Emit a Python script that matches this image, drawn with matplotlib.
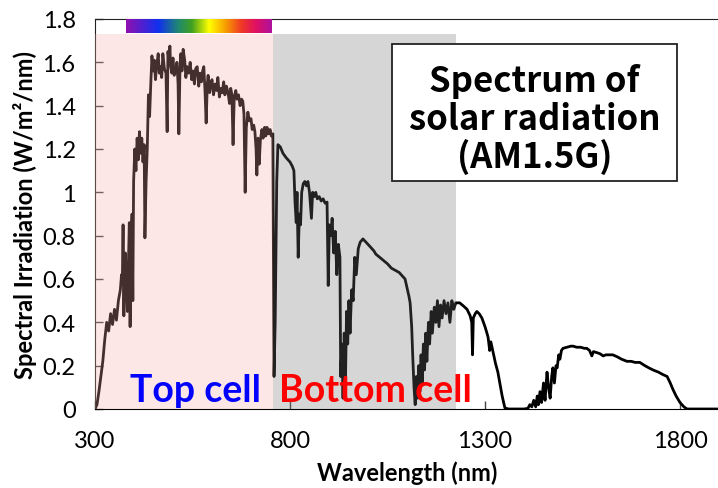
import numpy as np
import matplotlib
matplotlib.use("Agg")
import matplotlib.pyplot as plt
from matplotlib.colors import LinearSegmentedColormap
from matplotlib.patches import Rectangle

plt.rcParams["font.family"] = ["Lato", "DejaVu Sans"]

# AM1.5G spectrum (nm, W/m2/nm)
wl_uv = [300, 305, 310, 315, 320, 325, 330, 335, 340, 345, 350, 355, 360, 365,
         368, 370, 372, 374, 376, 378, 380, 383, 386, 388, 390, 392, 395, 397,
         399, 402, 405, 408, 411, 414, 417, 420, 423, 426, 428, 431, 434, 437,
         440, 443]
irr_uv = [0.0, 0.02, 0.08, 0.15, 0.22, 0.32, 0.40, 0.36, 0.44, 0.39, 0.46, 0.41,
          0.50, 0.55, 0.62, 0.58, 0.85, 0.43, 0.68, 0.72, 0.60, 0.45, 0.70, 0.86,
          0.38, 0.75, 0.90, 0.50, 1.05, 1.20, 1.10, 1.25, 1.15, 1.28, 1.18, 1.25,
          1.14, 1.22, 0.79, 1.05, 1.20, 1.45, 1.35, 1.50]

wl_vis = [446, 449, 452, 455, 458, 462, 465, 467, 471, 474, 478, 482, 485, 487,
          490, 492, 494, 497, 500, 503, 507, 510, 513, 515, 518, 520, 523, 526,
          530, 533, 536, 540, 544, 548, 551, 555, 558, 562, 566, 569, 573, 576,
          579, 582, 585, 588, 590, 594, 597, 600, 604, 608, 612, 615, 619, 623,
          626, 630, 633, 637, 641, 645, 648, 651, 654, 657, 661, 664, 668, 672,
          676, 679, 682, 685, 688, 692, 696, 700, 703, 707, 710, 713, 715, 718,
          721, 724, 728, 731, 735, 738, 741, 745, 749, 752, 756, 759]
irr_vis = [1.63, 1.56, 1.61, 1.52, 1.58, 1.64, 1.55, 1.58, 1.53, 1.64, 1.57, 1.55,
           1.28, 1.65, 1.60, 1.675, 1.58, 1.55, 1.62, 1.54, 1.56, 1.60, 1.50, 1.27,
           1.58, 1.64, 1.56, 1.66, 1.61, 1.53, 1.58, 1.55, 1.60, 1.52, 1.56, 1.50,
           1.57, 1.58, 1.49, 1.55, 1.51, 1.56, 1.58, 1.47, 1.32, 1.50, 1.54, 1.46,
           1.50, 1.52, 1.45, 1.50, 1.47, 1.53, 1.44, 1.48, 1.46, 1.51, 1.45, 1.49,
           1.46, 1.41, 1.48, 1.45, 1.22, 1.44, 1.47, 1.43, 1.45, 1.40, 1.43, 1.42,
           1.36, 1.00, 1.30, 1.37, 1.33, 1.34, 1.29, 1.31, 1.28, 1.20, 1.08, 1.25,
           1.13, 1.24, 1.29, 1.25, 1.30, 1.26, 1.30, 1.27, 1.29, 1.26, 1.27, 0.15]

wl_nir = [762, 766, 769, 775, 782, 790, 795, 800, 806, 810, 813, 816, 818, 821,
          824, 827, 830, 834, 838, 842, 846, 850, 855, 858, 862, 866, 870, 875,
          880, 885, 890, 895, 898, 901, 905, 908, 912, 916, 920, 924, 928, 930,
          933, 936, 939, 942, 945, 948, 951, 954, 958, 962, 966, 970, 975, 980,
          987, 995, 1000, 1010, 1015, 1020, 1030, 1040, 1050, 1060, 1070, 1080,
          1090, 1095, 1100, 1105, 1108, 1112, 1115, 1118, 1121, 1124, 1127, 1130,
          1133, 1136, 1139, 1142, 1145, 1148, 1151, 1155, 1158, 1162, 1165, 1170,
          1174, 1178, 1182, 1186, 1190, 1195, 1200, 1205, 1210, 1215, 1220, 1225]
irr_nir = [0.40, 1.05, 1.22, 1.21, 1.18, 1.16, 1.15, 1.14, 1.12, 1.10, 0.95, 0.86,
           1.00, 0.70, 0.90, 0.85, 1.00, 1.04, 1.05, 1.03, 1.05, 1.00, 0.88, 1.00,
           0.98, 1.00, 0.97, 0.98, 0.96, 0.97, 0.95, 0.955, 0.57, 0.85, 0.80, 0.88,
           0.72, 0.82, 0.62, 0.76, 0.70, 0.15, 0.30, 0.05, 0.35, 0.10, 0.45, 0.30,
           0.50, 0.35, 0.55, 0.50, 0.70, 0.62, 0.74, 0.77, 0.785, 0.77, 0.76, 0.74,
           0.73, 0.715, 0.70, 0.685, 0.67, 0.65, 0.64, 0.63, 0.61, 0.60, 0.56, 0.52,
           0.49, 0.38, 0.23, 0.10, 0.02, 0.15, 0.05, 0.20, 0.08, 0.25, 0.12, 0.30,
           0.18, 0.35, 0.22, 0.40, 0.30, 0.45, 0.35, 0.47, 0.40, 0.50, 0.38, 0.48,
           0.42, 0.50, 0.44, 0.49, 0.40, 0.50, 0.46, 0.49]

wl_ir = [1228, 1235, 1245, 1254, 1262, 1266, 1268, 1270, 1275, 1279, 1285, 1292,
         1300, 1305, 1308, 1312, 1315, 1321, 1327, 1333, 1338, 1344, 1351, 1360,
         1400, 1410, 1415, 1420, 1425, 1430, 1434, 1437, 1441, 1445, 1450, 1454,
         1459, 1463, 1467, 1471, 1474, 1478, 1482, 1485, 1489, 1492, 1496, 1500,
         1510, 1520, 1526, 1535, 1545, 1555, 1561, 1568, 1574, 1578, 1587, 1595,
         1603, 1610, 1620, 1628, 1640, 1650, 1657, 1664, 1675, 1685, 1697, 1710,
         1720, 1731, 1745, 1755, 1767, 1775, 1782, 1790, 1800, 1810, 1818, 1900]
irr_ir = [0.49, 0.49, 0.475, 0.46, 0.43, 0.40, 0.25, 0.42, 0.44, 0.45, 0.44, 0.42,
          0.38, 0.35, 0.33, 0.27, 0.31, 0.26, 0.21, 0.17, 0.12, 0.06, 0.005, 0.0,
          0.0, 0.003, 0.02, 0.01, 0.04, 0.01, 0.06, 0.02, 0.08, 0.03, 0.12, 0.04,
          0.17, 0.10, 0.05, 0.15, 0.19, 0.12, 0.20, 0.19, 0.25, 0.23, 0.27, 0.28,
          0.285, 0.29, 0.29, 0.285, 0.285, 0.28, 0.28, 0.27, 0.245, 0.265, 0.26, 0.255,
          0.245, 0.25, 0.25, 0.25, 0.24, 0.23, 0.225, 0.22, 0.22, 0.215, 0.215, 0.20,
          0.19, 0.18, 0.17, 0.16, 0.15, 0.12, 0.09, 0.06, 0.03, 0.01, 0.0, 0.0]

wavelength = np.array(wl_uv + wl_vis + wl_nir + wl_ir)
irradiance = np.array(irr_uv + irr_vis + irr_nir + irr_ir)

top_cell = (300, 757)
bottom_cell = (757, 1225)
visible = (380, 752)
band_top = 1.73

xticks = [300, 800, 1300, 1800]
yticks = [0, 0.2, 0.4, 0.6, 0.8, 1, 1.2, 1.4, 1.6, 1.8]
ytick_labels = ["0", "0.2", "0.4", "0.6", "0.8", "1", "1.2", "1.4", "1.6", "1.8"]

fig = plt.figure(figsize=(7.18, 4.89), dpi=100)
ax = fig.add_axes([95 / 718, 79 / 489, 624 / 718, 390 / 489])

ax.plot(wavelength, irradiance, color="black", lw=2.0, zorder=2)

# cell bands laid over the curve (semi-transparent, tints the line)
ax.add_patch(Rectangle((top_cell[0], 0), top_cell[1] - top_cell[0], band_top,
                       facecolor=(246 / 255, 171 / 255, 168 / 255), alpha=0.28,
                       edgecolor="none", zorder=3))
ax.add_patch(Rectangle((bottom_cell[0], 0), bottom_cell[1] - bottom_cell[0], band_top,
                       facecolor=(116 / 255, 116 / 255, 116 / 255), alpha=0.29,
                       edgecolor="none", zorder=3))

# visible rainbow strip
rainbow = LinearSegmentedColormap.from_list("vis", [
    (0.0, "#9010b0"), (0.22, "#1030f0"), (0.36, "#208a70"), (0.45, "#40a020"),
    (0.57, "#ffff00"), (0.68, "#f8a000"), (0.79, "#f03a25"), (0.89, "#e01062"),
    (1.0, "#b0109f")])
ax.imshow(np.linspace(0, 1, 256)[None, :], cmap=rainbow, aspect="auto",
          extent=[visible[0], visible[1], band_top + 0.005, 1.8], zorder=4)

ax.text(390, 0.037, "Top cell", color="#0000ff", fontsize=27, fontweight="bold",
        va="baseline", ha="left", zorder=5)
ax.text(771, 0.037, "Bottom cell", color="#ff0000", fontsize=27, fontweight="bold",
        va="baseline", ha="left", zorder=5)

# title box
ax.add_patch(Rectangle((1061, 1.052), 731, 0.633, facecolor="white",
                       edgecolor="#222222", lw=1.3, zorder=5))
ax.text(1427, 1.34, "Spectrum of\nsolar radiation\n(AM1.5G)", ha="center", va="center",
        fontsize=25, fontweight="bold", linespacing=1.08, zorder=6,
        family=["Noto Sans CJK JP", "DejaVu Sans"])

ax.set_xlim(300, 1900)
ax.set_ylim(0, 1.8)
ax.set_xticks(xticks)
ax.set_yticks(yticks)
ax.set_yticklabels(ytick_labels)
ax.tick_params(direction="in", length=6, width=1, color="#444444",
               labelsize=17, pad=14)
ax.tick_params(axis="x", pad=15)

ax.spines["right"].set_visible(False)
for s in ["left", "top"]:
    ax.spines[s].set_color("#222222")
ax.spines["bottom"].set_color("black")

ax.set_xlabel("Wavelength (nm)", fontsize=17, fontweight="bold", labelpad=7)
ax.set_ylabel("Spectral Irradiation (W/m²/nm)", fontsize=17, fontweight="bold",
              labelpad=4)

fig.savefig("out.png", dpi=100, facecolor="white")
